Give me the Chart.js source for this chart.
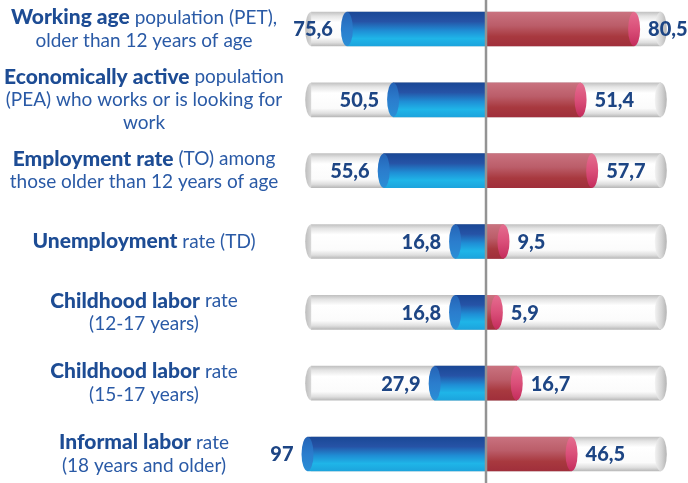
<!DOCTYPE html>
<html><head><meta charset="utf-8">
<script src="https://cdn.jsdelivr.net/npm/chart.js@4/dist/chart.umd.min.js"></script>
<style>html,body{margin:0;padding:0;background:#fff}#wrap{width:688px;height:483px;position:relative}</style>
</head><body><div id="wrap"><canvas id="c"></canvas></div>
<script>
const categories = ['PET','PEA','TO','TD','TI 12-17','TI 15-17','Informal'];
const labelBold = ['Working age','Economically active','Employment rate','Unemployment','Childhood labor','Childhood labor','Informal labor'];
const labelRest = [' population (PET),',' population',' (TO) among',' rate (TD)',' rate',' rate',' rate'];
const labelMore = [['older than 12 years of age'],['(PEA) who works or is looking for','work'],['those older than 12 years of age'],[],['(12-17 years)'],['(15-17 years)'],['(18 years and older)']];
const leftValues = [75.6, 50.5, 55.6, 16.8, 16.8, 27.9, 97];
const rightValues = [80.5, 51.4, 57.7, 9.5, 5.9, 16.7, 46.5];
const trackRange = [-95, 95];

const RX = 6, TH = 34;
const TEXT_FONT = '"Lato", "Open Sans", sans-serif';

function vGrad(ctx, stops) {
  const c = ctx.chart;
  if (!c.scales || !c.scales.y) return stops[2][1];
  const y = c.scales.y.getPixelForValue(ctx.dataIndex);
  if (!isFinite(y)) return stops[2][1];
  const g = c.ctx.createLinearGradient(0, y - TH/2, 0, y + TH/2);
  stops.forEach(s => g.addColorStop(s[0], s[1]));
  return g;
}
const blueStops = [[0,'#1a4896'],[0.28,'#2653a6'],[0.55,'#1f8ed5'],[0.78,'#1fb5e8'],[1,'#1ca4dd']];
const redStops = [[0,'#c9727f'],[0.4,'#bb5d69'],[0.72,'#a8393f'],[1,'#a02f3b']];
const trackStops = [[0,'#c2c2c2'],[0.12,'#e4e4e4'],[0.3,'#ffffff'],[0.75,'#fbfbfb'],[0.9,'#dedede'],[1,'#b9b9b9']];

const capPlugin = {
  id: 'caps',
  afterDatasetDraw(chart, args) {
    const ctx = chart.ctx;
    const meta = args.meta;
    const idx = args.index;
    ctx.save();
    meta.data.forEach(el => {
      const y = el.y, h = TH / 2;
      if (!isFinite(y) || !isFinite(el.x)) return;
      if (idx === 2) {
        const left = Math.min(el.x, el.base), right = Math.max(el.x, el.base);
        let g = ctx.createLinearGradient(left - RX, 0, left + RX, 0);
        g.addColorStop(0, '#bdbdbd'); g.addColorStop(1, '#f4f4f4');
        ctx.beginPath(); ctx.ellipse(left, y, RX, h, 0, Math.PI/2, Math.PI*1.5); ctx.closePath();
        ctx.fillStyle = g; ctx.fill();
        g = ctx.createLinearGradient(right - RX, 0, right + RX, 0);
        g.addColorStop(0, '#f3f3f3'); g.addColorStop(0.6, '#d2d2d2'); g.addColorStop(1, '#b3b3b3');
        ctx.beginPath(); ctx.ellipse(right, y, RX, h, 0, 0, Math.PI*2);
        ctx.fillStyle = g; ctx.fill();
      } else if (idx === 0) {
        const g = ctx.createLinearGradient(0, y - h, 0, y + h);
        g.addColorStop(0, '#2563b6'); g.addColorStop(0.5, '#2b7dcd'); g.addColorStop(1, '#2a8ed6');
        ctx.beginPath(); ctx.ellipse(el.x, y, RX, h, 0, 0, Math.PI*2);
        ctx.fillStyle = g; ctx.fill();
      } else if (idx === 1) {
        const g = ctx.createLinearGradient(0, y - h, 0, y + h);
        g.addColorStop(0, '#e56d8f'); g.addColorStop(0.5, '#da4f79'); g.addColorStop(1, '#c42c5c');
        ctx.beginPath(); ctx.ellipse(el.x, y, RX, h, 0, 0, Math.PI*2);
        ctx.fillStyle = g; ctx.fill();
      }
    });
    ctx.restore();
  },
  afterDatasetsDraw(chart) {
    const ctx = chart.ctx;
    ctx.save();
    const x0 = chart.scales.x.getPixelForValue(0);
    ctx.strokeStyle = '#939393'; ctx.lineWidth = 2.5;
    ctx.beginPath(); ctx.moveTo(x0, 0); ctx.lineTo(x0, chart.height); ctx.stroke();
    ctx.font = '900 20px ' + TEXT_FONT;
    ctx.fillStyle = '#1d4584';
    ctx.textBaseline = 'middle';
    const fmt = v => String(v).replace('.', ',');
    chart.getDatasetMeta(0).data.forEach((el, i) => {
      ctx.textAlign = 'right';
      ctx.fillText(fmt(leftValues[i]), el.x - RX - 8, el.y + 1);
    });
    chart.getDatasetMeta(1).data.forEach((el, i) => {
      ctx.textAlign = 'left';
      ctx.fillText(fmt(rightValues[i]), el.x + RX + 8, el.y + 1);
    });
    const cx = 144, lh = 23;
    const boldFont = '900 21px ' + TEXT_FONT, regFont = '19px ' + TEXT_FONT;
    categories.forEach((c, i) => {
      const yc = chart.scales.y.getPixelForValue(i);
      const n = 1 + labelMore[i].length;
      let y = yc - (n - 1) * lh / 2;
      ctx.font = boldFont;
      const wb = ctx.measureText(labelBold[i]).width;
      ctx.font = regFont;
      const wr = ctx.measureText(labelRest[i]).width;
      const sx = cx - (wb + wr) / 2;
      ctx.textAlign = 'left';
      ctx.font = boldFont; ctx.fillStyle = '#1d4c94';
      ctx.fillText(labelBold[i], sx, y);
      ctx.font = regFont; ctx.fillStyle = '#2a5aa6';
      ctx.fillText(labelRest[i], sx + wb, y);
      ctx.textAlign = 'center';
      labelMore[i].forEach(t => { y += lh; ctx.fillText(t, cx, y); });
    });
    ctx.restore();
  }
};

const common = { grouped: false, barThickness: TH, borderWidth: 0, borderSkipped: false, clip: false };
new Chart(document.getElementById('c'), {
  type: 'bar',
  data: {
    labels: categories,
    datasets: [
      Object.assign({ label: 'left', data: leftValues.map(v => -v), backgroundColor: ctx => vGrad(ctx, blueStops) }, common),
      Object.assign({ label: 'right', data: rightValues, backgroundColor: ctx => vGrad(ctx, redStops) }, common),
      Object.assign({ label: 'track', data: categories.map(() => trackRange.slice()), backgroundColor: ctx => vGrad(ctx, trackStops) }, common)
    ]
  },
  options: {
    indexAxis: 'y',
    responsive: true,
    maintainAspectRatio: false,
    animation: false,
    layout: { padding: { left: 302, right: 18, top: 29, bottom: 29 } },
    scales: {
      x: { type: 'linear', min: -100, max: 100, display: false },
      y: { display: false, offset: false }
    },
    plugins: { legend: { display: false }, tooltip: { enabled: false } }
  },
  plugins: [capPlugin]
});
</script>
</body></html>
